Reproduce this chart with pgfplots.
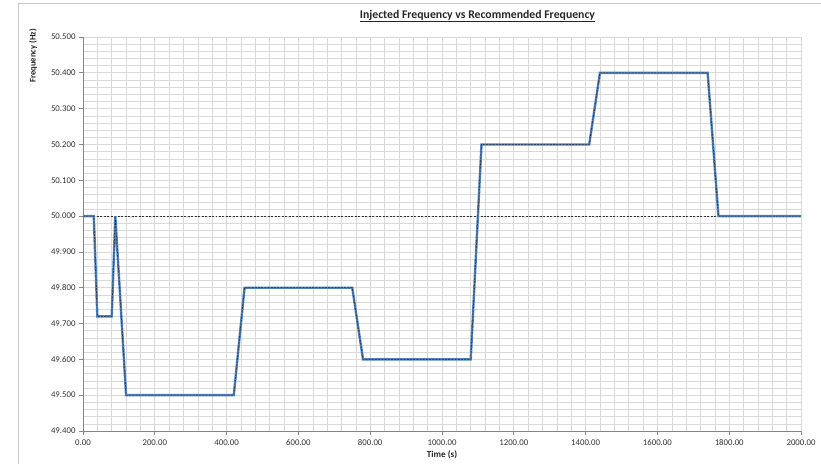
\documentclass[border=0pt]{standalone}
\usepackage{pgfplots}
\pgfplotsset{compat=1.18}
\usepackage{fontspec}
\setmainfont{Carlito}
\definecolor{lineblue}{RGB}{79,129,189}
\definecolor{gridgray}{RGB}{217,217,217}
\definecolor{axisgray}{RGB}{134,134,134}
\definecolor{labelgray}{RGB}{50,50,50}
\definecolor{framegray}{RGB}{200,200,200}
\begin{document}
\begin{tikzpicture}[x=1bp,y=1bp]
\begin{axis}[
  at={(83bp,33bp)}, anchor=south west,
  scale only axis, width=718bp, height=394bp,
  xmin=0, xmax=2000, ymin=49.4, ymax=50.5,
  xtick={0,200,...,2000},
  ytick={49.4,49.5,...,50.5},
  minor tick num=4,
  grid=both,
  major grid style={gridgray, line width=0.7pt},
  minor grid style={gridgray, line width=0.5pt},
  axis lines*=left,
  axis line style={axisgray, line width=0.7pt},
  tick align=outside,
  major tick length=4bp,
  minor tick length=0pt,
  tick style={axisgray, line width=0.7pt},
  /pgf/number format/assume math mode=true,
  tick label style={font=\fontsize{8.8}{10}\selectfont, text=labelgray},
  xticklabel style={yshift=-1bp},
  x tick label style={/pgf/number format/.cd, fixed, fixed zerofill, precision=2, 1000 sep={}},
  y tick label style={/pgf/number format/.cd, fixed, fixed zerofill, precision=3, 1000 sep={}},
  clip=false,
]
% nominal frequency
\addplot[black!80, line width=0.6pt, dash pattern=on 2pt off 1.5pt] coordinates {(0,50.0) (2000,50.0)};
% injected frequency
\addplot[lineblue, line width=2.4pt, line join=miter] coordinates {
(0,50.0) (30,50.0) (40,49.72) (80,49.72) (90,50.0) (120,49.5) (420,49.5) (450,49.8)
(750,49.8) (780,49.6) (1080,49.6) (1110,50.2) (1410,50.2) (1440,50.4) (1740,50.4)
(1770,50.0) (2000,50.0)};
% recommended frequency
\addplot[black!85, line width=0.55pt, dash pattern=on 2pt off 1.2pt] coordinates {
(0,50.0) (30,50.0) (40,49.72) (80,49.72) (90,50.0) (120,49.5) (420,49.5) (450,49.8)
(750,49.8) (780,49.6) (1080,49.6) (1110,50.2) (1410,50.2) (1440,50.4) (1740,50.4)
(1770,50.0) (2000,50.0)};
\end{axis}
\node[font=\fontsize{11.8}{13}\selectfont\bfseries, text=black!85] at (477.5bp,448bp) {\underline{Injected Frequency vs Recommended Frequency}};
\node[font=\fontsize{8.7}{10}\selectfont\bfseries, text=black!85, rotate=90] at (33bp,408bp) {Frequency (Hz)};
\node[font=\fontsize{9.2}{11}\selectfont\bfseries, text=black!85] at (442bp,9bp) {Time (s)};
\draw[framegray, line width=0.7pt] (18bp,0bp) -- (18bp,461bp) -- (821bp,461bp);
\pgfresetboundingbox
\path[use as bounding box] (0,0) rectangle (821bp,464bp);
\end{tikzpicture}
\end{document}
